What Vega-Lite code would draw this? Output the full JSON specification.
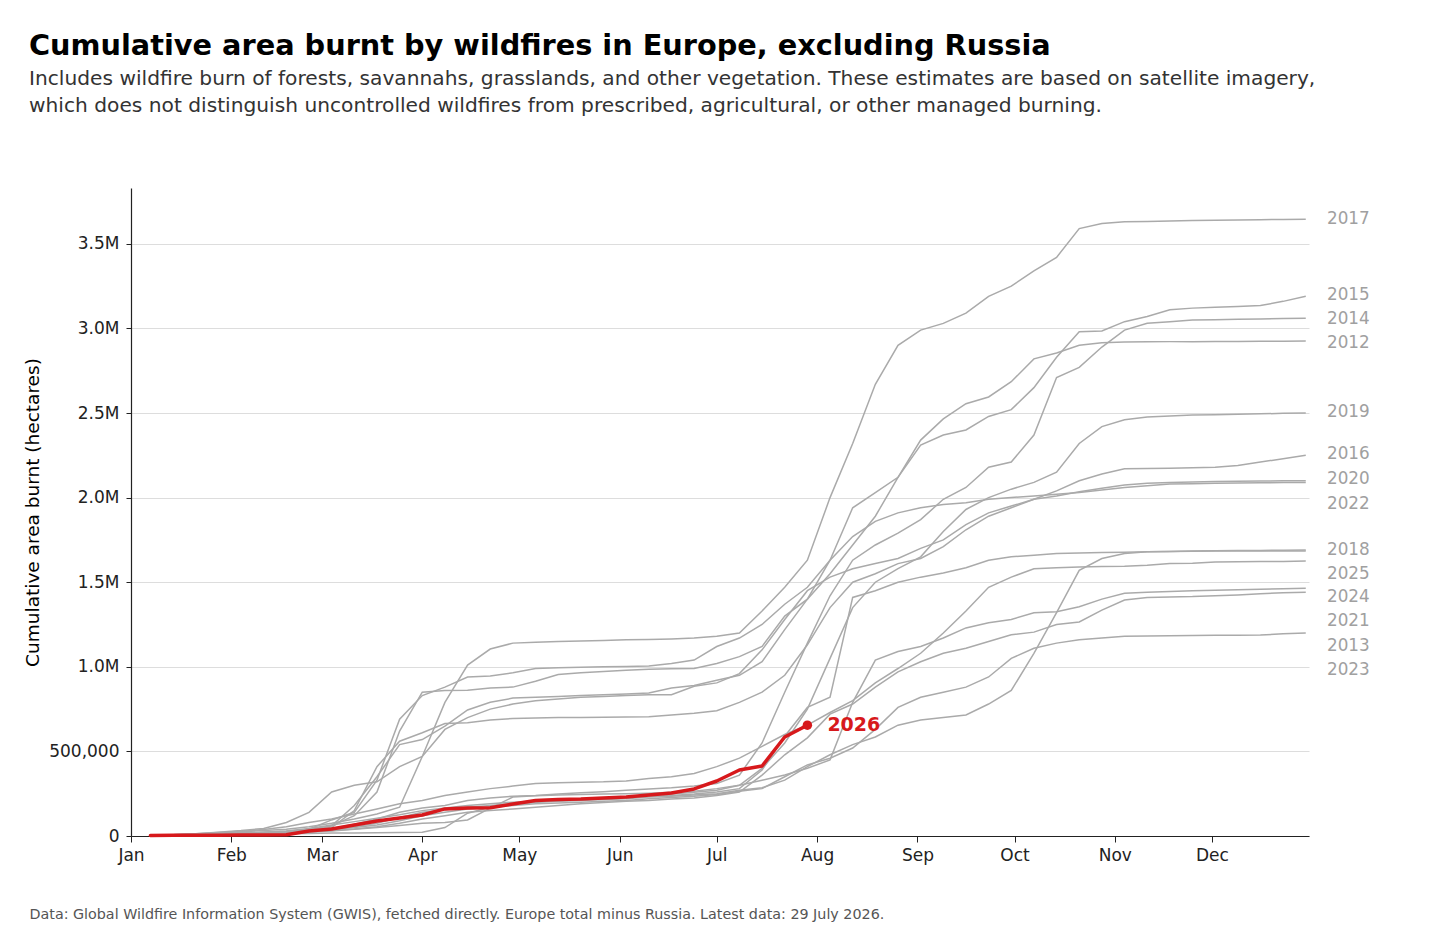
{
  "$schema": "https://vega.github.io/schema/vega-lite/v6.json",
  "width": 1178,
  "height": 648,
  "autosize": {"type": "none"},
  "padding": {"left": 131, "top": 188, "right": 147, "bottom": 101},
  "config": {
    "font": "DejaVu Sans",
    "view": {"stroke": null},
    "axis": {"domainColor": "#222222", "domainWidth": 1.2, "tickColor": "#222222", "labelColor": "#222222", "labelFontSize": 17, "titleFontWeight": "normal"}
  },
  "title": {
    "text": "Cumulative area burnt by wildfires in Europe, excluding Russia",
    "subtitle": [
      "Includes wildfire burn of forests, savannahs, grasslands, and other vegetation. These estimates are based on satellite imagery,",
      "which does not distinguish uncontrolled wildfires from prescribed, agricultural, or other managed burning."
    ],
    "anchor": "start",
    "frame": "group",
    "dx": -102,
    "offset": 72,
    "fontSize": 28.75,
    "fontWeight": "bold",
    "color": "#000000",
    "subtitleFontSize": 20.2,
    "subtitleColor": "#333333",
    "subtitlePadding": 8,
    "subtitleLineHeight": 27
  },
  "datasets": {
    "weekly": [
      {"d":"2026-01-07T00:00","2012":3000,"2013":2000,"2014":2000,"2015":3000,"2016":3000,"2017":5000,"2018":2000,"2019":3000,"2020":4000,"2021":2000,"2022":4000,"2023":2000,"2024":4000,"2025":2000,"2026":3000},
      {"d":"2026-01-14T00:00","2012":5000,"2013":4000,"2014":4000,"2015":6000,"2016":5000,"2017":8000,"2018":4000,"2019":5000,"2020":8000,"2021":3000,"2022":7000,"2023":4000,"2024":8000,"2025":3000,"2026":4000},
      {"d":"2026-01-21T00:00","2012":8000,"2013":6000,"2014":6000,"2015":9000,"2016":8000,"2017":12000,"2018":6000,"2019":8000,"2020":14000,"2021":5000,"2022":10000,"2023":7000,"2024":13000,"2025":5000,"2026":5000},
      {"d":"2026-01-28T00:00","2012":12000,"2013":9000,"2014":9000,"2015":12000,"2016":11000,"2017":18000,"2018":9000,"2019":12000,"2020":22000,"2021":7000,"2022":14000,"2023":10000,"2024":20000,"2025":7000,"2026":5000},
      {"d":"2026-02-04T00:00","2012":15000,"2013":12000,"2014":12000,"2015":16000,"2016":15000,"2017":25000,"2018":13000,"2019":16000,"2020":32000,"2021":10000,"2022":18000,"2023":14000,"2024":28000,"2025":9000,"2026":6000},
      {"d":"2026-02-11T00:00","2012":20000,"2013":15000,"2014":16000,"2015":20000,"2016":19000,"2017":32000,"2018":17000,"2019":22000,"2020":45000,"2021":13000,"2022":22000,"2023":18000,"2024":38000,"2025":11000,"2026":6000},
      {"d":"2026-02-18T00:00","2012":26000,"2013":19000,"2014":22000,"2015":25000,"2016":24000,"2017":40000,"2018":22000,"2019":30000,"2020":80000,"2021":17000,"2022":28000,"2023":23000,"2024":55000,"2025":13000,"2026":7000},
      {"d":"2026-02-25T00:00","2012":35000,"2013":25000,"2014":30000,"2015":35000,"2016":32000,"2017":55000,"2018":30000,"2019":45000,"2020":140000,"2021":22000,"2022":40000,"2023":30000,"2024":80000,"2025":15000,"2026":30000},
      {"d":"2026-03-04T00:00","2012":60000,"2013":32000,"2014":45000,"2015":60000,"2016":50000,"2017":75000,"2018":40000,"2019":65000,"2020":260000,"2021":30000,"2022":95000,"2023":38000,"2024":100000,"2025":17000,"2026":41000},
      {"d":"2026-03-11T00:00","2012":180000,"2013":42000,"2014":70000,"2015":120000,"2016":150000,"2017":100000,"2018":55000,"2019":85000,"2020":300000,"2021":40000,"2022":140000,"2023":50000,"2024":130000,"2025":18000,"2026":65000},
      {"d":"2026-03-18T00:00","2012":350000,"2013":55000,"2014":100000,"2015":260000,"2016":410000,"2017":130000,"2018":75000,"2019":105000,"2020":320000,"2021":50000,"2022":330000,"2023":65000,"2024":160000,"2025":19000,"2026":89000},
      {"d":"2026-03-25T00:00","2012":540000,"2013":75000,"2014":140000,"2015":620000,"2016":560000,"2017":170000,"2018":110000,"2019":125000,"2020":410000,"2021":62000,"2022":690000,"2023":90000,"2024":190000,"2025":20000,"2026":106000},
      {"d":"2026-04-01T00:00","2012":570000,"2013":100000,"2014":165000,"2015":850000,"2016":610000,"2017":470000,"2018":140000,"2019":150000,"2020":470000,"2021":75000,"2022":830000,"2023":120000,"2024":210000,"2025":22000,"2026":124000},
      {"d":"2026-04-08T00:00","2012":650000,"2013":120000,"2014":180000,"2015":860000,"2016":665000,"2017":790000,"2018":155000,"2019":165000,"2020":630000,"2021":80000,"2022":880000,"2023":140000,"2024":240000,"2025":50000,"2026":160000},
      {"d":"2026-04-15T00:00","2012":745000,"2013":140000,"2014":210000,"2015":862000,"2016":670000,"2017":1010000,"2018":170000,"2019":180000,"2020":700000,"2021":95000,"2022":940000,"2023":160000,"2024":260000,"2025":135000,"2026":166000},
      {"d":"2026-04-22T00:00","2012":790000,"2013":150000,"2014":225000,"2015":875000,"2016":685000,"2017":1105000,"2018":180000,"2019":190000,"2020":750000,"2021":165000,"2022":945000,"2023":170000,"2024":280000,"2025":170000,"2026":167000},
      {"d":"2026-04-29T00:00","2012":815000,"2013":160000,"2014":235000,"2015":880000,"2016":695000,"2017":1140000,"2018":190000,"2019":200000,"2020":780000,"2021":230000,"2022":965000,"2023":180000,"2024":295000,"2025":185000,"2026":189000},
      {"d":"2026-05-06T00:00","2012":820000,"2013":170000,"2014":240000,"2015":915000,"2016":698000,"2017":1145000,"2018":200000,"2019":205000,"2020":800000,"2021":238000,"2022":990000,"2023":190000,"2024":310000,"2025":200000,"2026":210000},
      {"d":"2026-05-13T00:00","2012":825000,"2013":180000,"2014":248000,"2015":955000,"2016":700000,"2017":1150000,"2018":210000,"2019":210000,"2020":810000,"2021":242000,"2022":995000,"2023":195000,"2024":315000,"2025":205000,"2026":216000},
      {"d":"2026-05-20T00:00","2012":830000,"2013":190000,"2014":255000,"2015":965000,"2016":700000,"2017":1152000,"2018":215000,"2019":215000,"2020":820000,"2021":245000,"2022":998000,"2023":200000,"2024":318000,"2025":210000,"2026":219000},
      {"d":"2026-05-27T00:00","2012":835000,"2013":198000,"2014":262000,"2015":972000,"2016":702000,"2017":1155000,"2018":220000,"2019":222000,"2020":825000,"2021":248000,"2022":1000000,"2023":205000,"2024":320000,"2025":215000,"2026":225000},
      {"d":"2026-06-03T00:00","2012":840000,"2013":205000,"2014":270000,"2015":980000,"2016":703000,"2017":1160000,"2018":228000,"2019":230000,"2020":830000,"2021":250000,"2022":1002000,"2023":210000,"2024":325000,"2025":220000,"2026":231000},
      {"d":"2026-06-10T00:00","2012":845000,"2013":210000,"2014":278000,"2015":985000,"2016":705000,"2017":1162000,"2018":235000,"2019":240000,"2020":835000,"2021":253000,"2022":1005000,"2023":220000,"2024":340000,"2025":230000,"2026":242000},
      {"d":"2026-06-17T00:00","2012":875000,"2013":218000,"2014":285000,"2015":988000,"2016":715000,"2017":1165000,"2018":240000,"2019":248000,"2020":835000,"2021":258000,"2022":1020000,"2023":228000,"2024":350000,"2025":235000,"2026":254000},
      {"d":"2026-06-24T00:00","2012":890000,"2013":225000,"2014":295000,"2015":990000,"2016":725000,"2017":1170000,"2018":248000,"2019":258000,"2020":885000,"2021":265000,"2022":1040000,"2023":235000,"2024":370000,"2025":242000,"2026":278000},
      {"d":"2026-07-01T00:00","2012":920000,"2013":240000,"2014":310000,"2015":1020000,"2016":740000,"2017":1180000,"2018":260000,"2019":270000,"2020":905000,"2021":280000,"2022":1120000,"2023":245000,"2024":410000,"2025":250000,"2026":325000},
      {"d":"2026-07-08T00:00","2012":950000,"2013":260000,"2014":360000,"2015":1060000,"2016":790000,"2017":1200000,"2018":280000,"2019":300000,"2020":960000,"2021":300000,"2022":1170000,"2023":265000,"2024":460000,"2025":270000,"2026":390000},
      {"d":"2026-07-15T00:00","2012":1030000,"2013":360000,"2014":550000,"2015":1120000,"2016":850000,"2017":1330000,"2018":390000,"2019":400000,"2020":1100000,"2021":330000,"2022":1250000,"2023":280000,"2024":530000,"2025":285000,"2026":414000},
      {"d":"2026-07-22T00:00","2012":1220000,"2013":480000,"2014":850000,"2015":1300000,"2016":950000,"2017":1470000,"2018":590000,"2019":550000,"2020":1280000,"2021":360000,"2022":1370000,"2023":350000,"2024":600000,"2025":330000,"2026":585000},
      {"d":"2026-07-29T00:00","2012":1400000,"2013":580000,"2014":1140000,"2015":1400000,"2016":1130000,"2017":1630000,"2018":760000,"2019":750000,"2020":1450000,"2021":400000,"2022":1470000,"2023":420000,"2024":655000,"2025":410000,"2026":655000},
      {"d":"2026-08-05T00:00","2012":1550000,"2013":720000,"2014":1420000,"2015":1630000,"2016":1350000,"2017":2000000,"2018":820000,"2019":1050000,"2020":1530000,"2021":450000,"2022":1630000,"2023":460000,"2024":730000,"2025":480000},
      {"d":"2026-08-12T00:00","2012":1720000,"2013":780000,"2014":1630000,"2015":1940000,"2016":1500000,"2017":2320000,"2018":1410000,"2019":1350000,"2020":1580000,"2021":790000,"2022":1770000,"2023":520000,"2024":800000,"2025":540000},
      {"d":"2026-08-19T00:00","2012":1890000,"2013":880000,"2014":1720000,"2015":2030000,"2016":1550000,"2017":2670000,"2018":1450000,"2019":1500000,"2020":1610000,"2021":1040000,"2022":1860000,"2023":630000,"2024":905000,"2025":585000},
      {"d":"2026-08-26T00:00","2012":2120000,"2013":970000,"2014":1790000,"2015":2120000,"2016":1610000,"2017":2900000,"2018":1500000,"2019":1580000,"2020":1640000,"2021":1090000,"2022":1910000,"2023":760000,"2024":990000,"2025":655000},
      {"d":"2026-09-02T00:00","2012":2340000,"2013":1030000,"2014":1870000,"2015":2310000,"2016":1640000,"2017":2990000,"2018":1530000,"2019":1650000,"2020":1700000,"2021":1120000,"2022":1940000,"2023":820000,"2024":1080000,"2025":685000},
      {"d":"2026-09-09T00:00","2012":2465000,"2013":1080000,"2014":1990000,"2015":2370000,"2016":1710000,"2017":3030000,"2018":1555000,"2019":1800000,"2020":1750000,"2021":1170000,"2022":1960000,"2023":850000,"2024":1200000,"2025":700000},
      {"d":"2026-09-16T00:00","2012":2555000,"2013":1110000,"2014":2060000,"2015":2400000,"2016":1810000,"2017":3090000,"2018":1585000,"2019":1930000,"2020":1840000,"2021":1230000,"2022":1970000,"2023":880000,"2024":1330000,"2025":715000},
      {"d":"2026-09-23T00:00","2012":2595000,"2013":1150000,"2014":2180000,"2015":2480000,"2016":1890000,"2017":3190000,"2018":1630000,"2019":2000000,"2020":1910000,"2021":1260000,"2022":1990000,"2023":940000,"2024":1470000,"2025":780000},
      {"d":"2026-09-30T00:00","2012":2685000,"2013":1190000,"2014":2210000,"2015":2520000,"2016":1940000,"2017":3250000,"2018":1650000,"2019":2050000,"2020":1950000,"2021":1280000,"2022":2000000,"2023":1050000,"2024":1530000,"2025":860000},
      {"d":"2026-10-07T00:00","2012":2820000,"2013":1205000,"2014":2370000,"2015":2650000,"2016":1990000,"2017":3340000,"2018":1660000,"2019":2090000,"2020":1990000,"2021":1320000,"2022":2010000,"2023":1110000,"2024":1580000,"2025":1080000},
      {"d":"2026-10-14T00:00","2012":2855000,"2013":1250000,"2014":2710000,"2015":2830000,"2016":2040000,"2017":3420000,"2018":1670000,"2019":2150000,"2020":2010000,"2021":1325000,"2022":2020000,"2023":1140000,"2024":1585000,"2025":1320000},
      {"d":"2026-10-21T00:00","2012":2900000,"2013":1265000,"2014":2770000,"2015":2980000,"2016":2100000,"2017":3590000,"2018":1672000,"2019":2320000,"2020":2035000,"2021":1355000,"2022":2030000,"2023":1160000,"2024":1590000,"2025":1570000},
      {"d":"2026-10-28T00:00","2012":2915000,"2013":1335000,"2014":2890000,"2015":2985000,"2016":2140000,"2017":3620000,"2018":1675000,"2019":2420000,"2020":2055000,"2021":1400000,"2022":2045000,"2023":1170000,"2024":1593000,"2025":1640000},
      {"d":"2026-11-04T00:00","2012":2920000,"2013":1395000,"2014":2990000,"2015":3040000,"2016":2170000,"2017":3630000,"2018":1677000,"2019":2460000,"2020":2075000,"2021":1435000,"2022":2060000,"2023":1180000,"2024":1595000,"2025":1670000},
      {"d":"2026-11-11T00:00","2012":2921000,"2013":1410000,"2014":3030000,"2015":3070000,"2016":2172000,"2017":3632000,"2018":1680000,"2019":2477000,"2020":2085000,"2021":1440000,"2022":2070000,"2023":1182000,"2024":1600000,"2025":1680000},
      {"d":"2026-11-18T00:00","2012":2922000,"2013":1413000,"2014":3040000,"2015":3110000,"2016":2174000,"2017":3635000,"2018":1682000,"2019":2482000,"2020":2090000,"2021":1445000,"2022":2080000,"2023":1184000,"2024":1610000,"2025":1682000},
      {"d":"2026-11-25T00:00","2012":2922000,"2013":1415000,"2014":3050000,"2015":3120000,"2016":2176000,"2017":3638000,"2018":1684000,"2019":2488000,"2020":2092000,"2021":1450000,"2022":2082000,"2023":1185000,"2024":1612000,"2025":1683000},
      {"d":"2026-12-02T00:00","2012":2923000,"2013":1420000,"2014":3052000,"2015":3125000,"2016":2180000,"2017":3640000,"2018":1686000,"2019":2490000,"2020":2095000,"2021":1452000,"2022":2085000,"2023":1186000,"2024":1620000,"2025":1684000},
      {"d":"2026-12-09T00:00","2012":2923000,"2013":1425000,"2014":3054000,"2015":3130000,"2016":2190000,"2017":3641000,"2018":1687000,"2019":2493000,"2020":2097000,"2021":1455000,"2022":2087000,"2023":1187000,"2024":1621000,"2025":1684000},
      {"d":"2026-12-16T00:00","2012":2924000,"2013":1432000,"2014":3056000,"2015":3135000,"2016":2210000,"2017":3643000,"2018":1688000,"2019":2495000,"2020":2098000,"2021":1458000,"2022":2088000,"2023":1188000,"2024":1622000,"2025":1685000},
      {"d":"2026-12-23T00:00","2012":2924000,"2013":1437000,"2014":3058000,"2015":3160000,"2016":2230000,"2017":3644000,"2018":1689000,"2019":2498000,"2020":2099000,"2021":1462000,"2022":2089000,"2023":1195000,"2024":1623000,"2025":1685000},
      {"d":"2026-12-30T00:00","2012":2925000,"2013":1440000,"2014":3060000,"2015":3190000,"2016":2250000,"2017":3645000,"2018":1690000,"2019":2500000,"2020":2100000,"2021":1465000,"2022":2090000,"2023":1200000,"2024":1625000,"2025":1685000}
    ],
    "labels": [
      {"lab": "2017", "ly": 3648000},
      {"lab": "2015", "ly": 3199000},
      {"lab": "2014", "ly": 3057000},
      {"lab": "2012", "ly": 2915000},
      {"lab": "2019", "ly": 2507000},
      {"lab": "2016", "ly": 2258000},
      {"lab": "2020", "ly": 2111000},
      {"lab": "2022", "ly": 1963000},
      {"lab": "2018", "ly": 1691000},
      {"lab": "2025", "ly": 1549000},
      {"lab": "2024", "ly": 1413000},
      {"lab": "2021", "ly": 1271000},
      {"lab": "2013", "ly": 1123000},
      {"lab": "2023", "ly": 981000}
    ]
  },
  "layer": [
    {
      "data": {"name": "weekly"},
      "transform": [
        {"fold": ["2012", "2013", "2014", "2015", "2016", "2017", "2018", "2019", "2020", "2021", "2022", "2023", "2024", "2025"], "as": ["key", "v"]},
        {"filter": "isValid(datum.v)"}
      ],
      "mark": {"type": "line", "color": "#aaaaaa", "strokeWidth": 1.5},
      "encoding": {
        "x": {
          "field": "d",
          "type": "temporal",
          "scale": {"domain": [{"year": 2026, "month": 1, "date": 1}, {"year": 2026, "month": 12, "date": 31}]},
          "axis": {
            "title": "Data: Global Wildfire Information System (GWIS), fetched directly. Europe total minus Russia. Latest data: 29 July 2026.",
            "titleAlign": "left",
            "titleAnchor": "start",
            "titleX": -102,
            "titleY": 82,
            "titleBaseline": "alphabetic",
            "titleFontSize": 14.3,
            "titleColor": "#555555",
            "format": "%b",
            "tickCount": {"interval": "month", "step": 1},
            "grid": false,
            "tickSize": 6,
            "labelPadding": 5,
            "labelFlush": false,
            "labelOverlap": false
          }
        },
        "y": {
          "field": "v",
          "type": "quantitative",
          "scale": {"domain": [0, 3830000], "nice": false},
          "axis": {
            "values": [0, 500000, 1000000, 1500000, 2000000, 2500000, 3000000, 3500000],
            "labelExpr": "datum.value == 0 ? '0' : datum.value == 500000 ? '500,000' : format(datum.value / 1000000, '.1f') + 'M'",
            "title": "Cumulative area burnt (hectares)",
            "titleFontSize": 18.5,
            "titleColor": "#000000",
            "titleX": -89,
            "titleY": 324,
            "grid": true,
            "gridColor": "#dddddd",
            "tickSize": 5,
            "labelPadding": 7
          }
        },
        "detail": {"field": "key"}
      }
    },
    {
      "data": {"name": "weekly"},
      "transform": [
        {"fold": ["2026"], "as": ["key", "v"]},
        {"filter": "isValid(datum.v)"}
      ],
      "mark": {"type": "line", "color": "#d7191c", "strokeWidth": 3.5, "strokeCap": "round", "strokeJoin": "round"},
      "encoding": {
        "x": {"field": "d", "type": "temporal"},
        "y": {"field": "v", "type": "quantitative"}
      }
    },
    {
      "data": {"name": "weekly"},
      "transform": [
        {"fold": ["2026"], "as": ["key", "v"]},
        {"filter": "isValid(datum.v) && month(datum.d) == 6 && date(datum.d) == 29"}
      ],
      "layer": [
        {
          "mark": {"type": "point", "filled": true, "color": "#d7191c", "size": 90, "opacity": 1},
          "encoding": {
            "x": {"field": "d", "type": "temporal"},
            "y": {"field": "v", "type": "quantitative"}
          }
        },
        {
          "mark": {"type": "text", "align": "left", "baseline": "middle", "dx": 20, "fontSize": 19, "fontWeight": "bold", "color": "#d7191c"},
          "encoding": {
            "x": {"field": "d", "type": "temporal"},
            "y": {"field": "v", "type": "quantitative"},
            "text": {"field": "key"}
          }
        }
      ]
    },
    {
      "data": {"name": "labels"},
      "mark": {"type": "text", "align": "left", "baseline": "middle", "dx": 18, "fontSize": 16.8, "color": "#a0a0a0"},
      "encoding": {
        "x": {"datum": {"year": 2026, "month": 12, "date": 31}, "type": "temporal"},
        "y": {"field": "ly", "type": "quantitative"},
        "text": {"field": "lab"}
      }
    }
  ]
}
